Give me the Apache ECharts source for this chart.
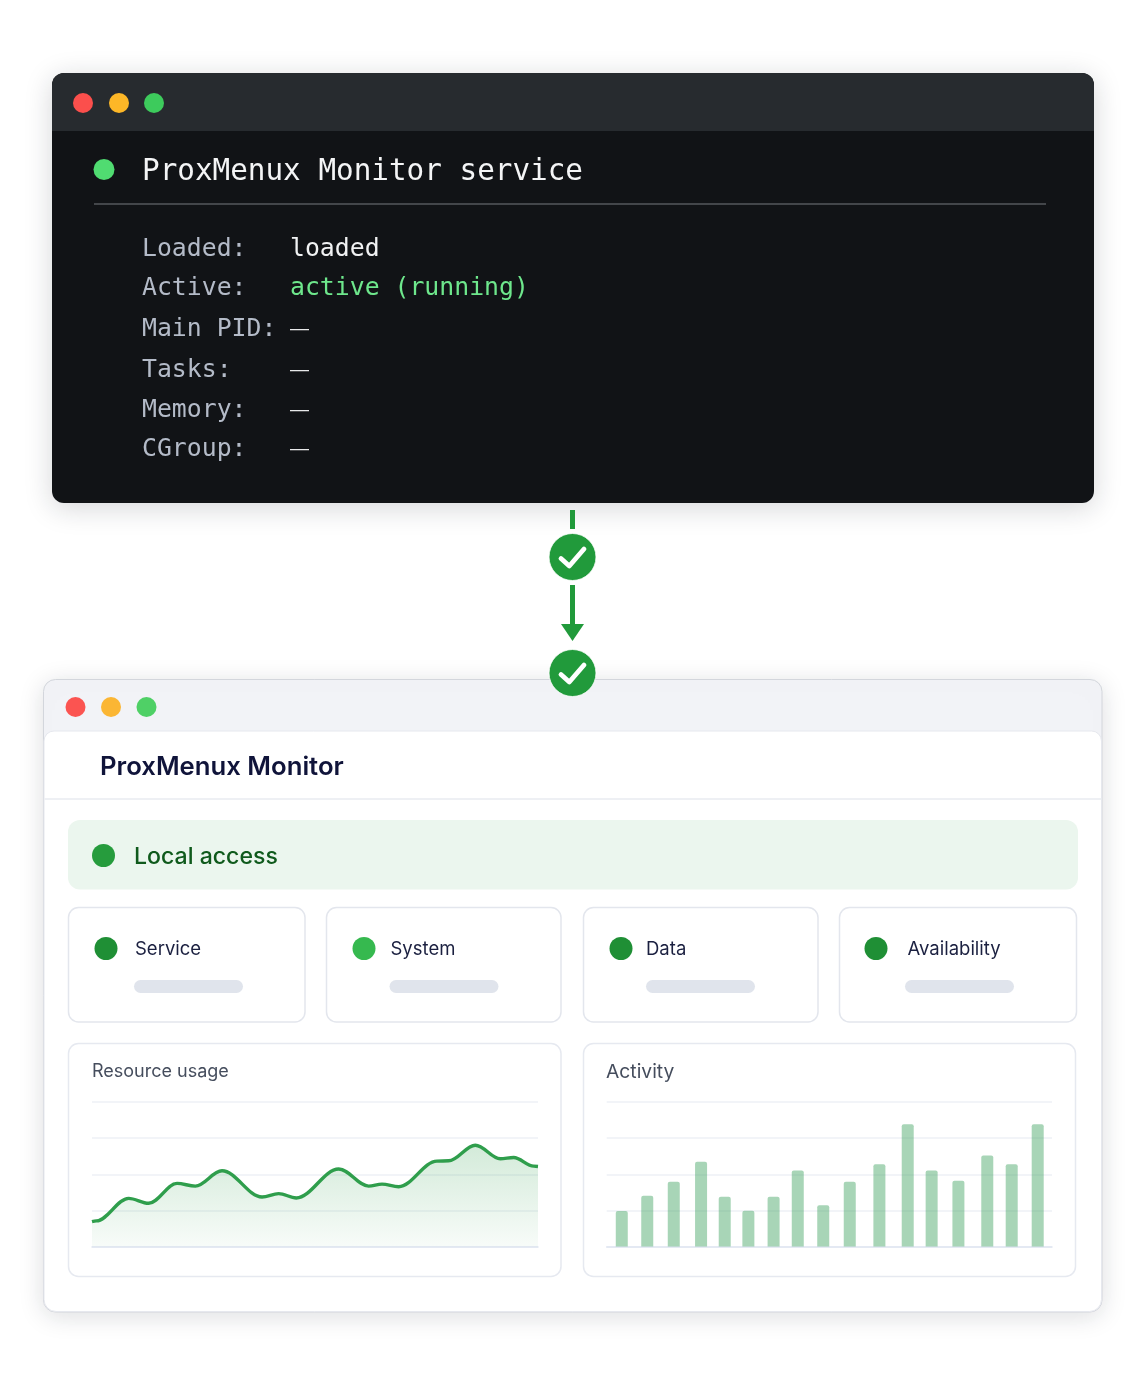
<!DOCTYPE html>
<html>
<head>
<meta charset="utf-8">
<title>ProxMenux Monitor</title>
<script src="https://cdn.jsdelivr.net/npm/echarts@6/dist/echarts.min.js"></script>
<style>
html, body { margin: 0; padding: 0; background: #fff; }
#main { width: 1145px; height: 1374px; }
</style>
</head>
<body>
<div id="main"></div>
<script>
// chart values (x as percent of the plot width)
var usageSlots = [0,0.97,8.22,12.71,19.06,23.17,29.15,38.12,41.85,45.81,55.31,62.03,65.02,68.76,77.35,79.97,85.95,91.55,94.54,99.03,100];
var usageValues = [17.2,17.7,33.3,29.9,43.7,41.8,52.4,34.3,36.6,33.6,53.6,41.8,43.2,41.4,59.1,59.3,70.1,60.7,61.6,55.6,55.4];
var activitySlots = [0.58,1.56,2.58,3.63,4.54,5.45,6.42,7.35,8.33,9.35,10.49,11.58,12.5,13.53,14.64,15.58,16.58];
var activityValues = [24.6,35.2,44.8,58.6,34.5,24.8,34.5,52.6,28.5,44.8,57.0,84.6,52.6,45.5,63.0,57.0,84.6];

// texts
var serviceTitle = 'ProxMenux Monitor service';
var serviceFields = ['Loaded:', 'Active:', 'Main PID:', 'Tasks:', 'Memory:', 'CGroup:'];
var serviceValues = ['loaded', 'active (running)', '—', '—', '—', '—'];
var monitorTitle = 'ProxMenux Monitor';
var accessLabel = 'Local access';
var statusLabels = ['Service', 'System', 'Data', 'Availability'];
var chartTitles = ['Resource usage', 'Activity'];

var MONO = '"DejaVu Sans Mono", monospace';
var SANS = 'Inter, "Noto Sans", sans-serif';
var GREEN = '#219a3b';

function rect(x, y, w, h, r, fill, extra) {
	var style = { fill: fill };
	for (var k in extra) style[k] = extra[k];
	return { type: 'rect', silent: true, shape: { x: x, y: y, width: w, height: h, r: r }, style: style };
}
function dot(cx, cy, r, fill) {
	return { type: 'circle', silent: true, shape: { cx: cx, cy: cy, r: r }, style: { fill: fill } };
}
function label(x, y, text, size, fill, family, weight) {
	return {
		type: 'text', silent: true, x: x, y: y,
		style: { text: text, fontSize: size, fontFamily: family, fontWeight: weight || 'normal', fill: fill, verticalAlign: 'middle', align: 'left' }
	};
}
function hline(x1, x2, y, color, width) {
	return { type: 'line', silent: true, shape: { x1: x1, y1: y, x2: x2, y2: y }, style: { stroke: color, lineWidth: width || 1.5 } };
}
function checkBadge(cy) {
	return [
		{ type: 'circle', silent: true, shape: { cx: 572.5, cy: cy, r: 23.5 }, style: { fill: GREEN, stroke: 'rgba(255,255,255,0.8)', lineWidth: 1 } },
		{ type: 'polyline', silent: true, shape: { points: [[561, cy + 1.5], [569.3, cy + 9], [584, cy - 8]] }, style: { fill: null, stroke: '#fff', lineWidth: 4.8, lineCap: 'round', lineJoin: 'round' } }
	];
}

var shadow = { shadowBlur: 28, shadowColor: 'rgba(20,25,40,0.18)', shadowOffsetY: 5 };
var els = [];

// terminal window
els.push(rect(52, 73, 1042, 430, 12, '#111316', shadow));
els.push(rect(52, 73, 1042, 58, [12, 12, 0, 0], '#272b2f'));
els.push(dot(83, 103, 10, '#fb4f4c'), dot(119, 103, 10, '#fdb727'), dot(154, 103, 10, '#3dcb5c'));
els.push(dot(104, 169.5, 10.5, '#50dc71'));
els.push(label(142, 172, serviceTitle, 29.3, '#f4f5f6', MONO));
els.push(hline(94, 1046, 204, '#55585d', 1.5));
var rowY = [249.5, 288.5, 329.5, 370.5, 410.5, 449.5];
for (var i = 0; i < serviceFields.length; i++) {
	els.push(label(142, rowY[i], serviceFields[i], 24.8, '#b4bbc8', MONO));
	if (serviceValues[i] === '—') {
		els.push(label(290, rowY[i] - 1, serviceValues[i], 19, '#e8e9ea', '"Liberation Sans", sans-serif'));
	} else {
		els.push(label(290, rowY[i], serviceValues[i], 24.8, i === 1 ? '#6ee78c' : '#f1f2f3', MONO));
	}
}

// browser window
els.push(rect(43.5, 679.5, 1058.5, 632.5, 12, '#f2f3f7', {
	stroke: '#d3d6dc', lineWidth: 1, shadowBlur: 26, shadowColor: 'rgba(20,25,40,0.14)', shadowOffsetY: 4
}));
els.push(rect(44, 731, 1057.5, 580.5, [10, 10, 12, 12], '#fff', { stroke: '#e6e8ee', lineWidth: 1 }));
els.push(dot(75.5, 707, 10, '#fb5451'), dot(111, 707, 10, '#fbb634'), dot(146.5, 707, 10, '#4fd066'));
els.push(label(100, 767, monitorTitle, 25.7, '#10143a', SANS, 600));
els.push(hline(44.5, 1101.5, 799, '#e9ebf0', 1.5));

// access banner
els.push(rect(68, 820, 1010, 69.5, 12, '#ebf6ee'));
els.push(dot(103.5, 855.5, 11.5, '#269c3d'));
els.push(label(134, 857, accessLabel, 23.1, '#0f5a1c', SANS, 500));

// status cards
var cardX = [68.5, 326.5, 583.5, 839.5], cardW = [236.5, 234.5, 234.5, 237];
var dotX = [106, 364, 621, 876], dotFill = ['#1f8f35', '#36b94f', '#1f8f35', '#1f8f35'];
var textX = [135, 390.5, 646, 907.5], pillX = [134, 389.5, 646, 905];
for (var c = 0; c < statusLabels.length; c++) {
	els.push(rect(cardX[c], 907.5, cardW[c], 114.5, 10, '#fff', { stroke: '#e3e6ed', lineWidth: 1.5 }));
	els.push(dot(dotX[c], 948.5, 11.5, dotFill[c]));
	els.push(label(textX[c], 949.5, statusLabels[c], 18.5, '#1b2040', SANS));
	els.push(rect(pillX[c], 980, 109, 13, 6.5, '#e0e4ec'));
}

// chart cards
els.push(rect(68.5, 1043.5, 492.5, 233, 10, '#fff', { stroke: '#e6e9f0', lineWidth: 1.5 }));
els.push(rect(583.5, 1043.5, 492, 233, 10, '#fff', { stroke: '#e6e9f0', lineWidth: 1.5 }));
els.push(label(92, 1072, chartTitles[0], 18, '#454d5d', SANS));
els.push(label(606, 1072, chartTitles[1], 19.3, '#454d5d', SANS));

// connector between the windows
els.push({ type: 'line', silent: true, shape: { x1: 572.5, y1: 510, x2: 572.5, y2: 529 }, style: { stroke: GREEN, lineWidth: 5 } });
els.push({ type: 'line', silent: true, shape: { x1: 572.5, y1: 585, x2: 572.5, y2: 626 }, style: { stroke: GREEN, lineWidth: 5 } });
els.push({ type: 'polygon', silent: true, shape: { points: [[561, 624], [584, 624], [572.5, 641]] }, style: { fill: GREEN } });
els = els.concat(checkBadge(557), checkBadge(673));

els.forEach(function (e) { e.z = -5; });

var splitStyle = { show: true, lineStyle: { color: '#eef0f6', width: 1.5 } };
var baseLine = { show: true, onZero: true, lineStyle: { color: '#dfe5f1', width: 1.5 } };

var option = {
	animation: false,
	backgroundColor: '#ffffff',
	graphic: { elements: els },
	grid: [
		{ left: 92, top: 1102, width: 446, height: 144.5 },
		{ left: 606.7, top: 1102, width: 445.3, height: 144.5 }
	],
	xAxis: [
		{ type: 'value', gridIndex: 0, min: 0, max: 100, axisLine: baseLine, axisTick: { show: false }, axisLabel: { show: false }, splitLine: { show: false } },
		{ type: 'value', gridIndex: 1, min: 0, max: 17.13, axisLine: baseLine, axisTick: { show: false }, axisLabel: { show: false }, splitLine: { show: false } }
	],
	yAxis: [
		{ type: 'value', gridIndex: 0, min: 0, max: 100, interval: 25, axisLine: { show: false }, axisTick: { show: false }, axisLabel: { show: false }, splitLine: splitStyle },
		{ type: 'value', gridIndex: 1, min: 0, max: 100, interval: 25, axisLine: { show: false }, axisTick: { show: false }, axisLabel: { show: false }, splitLine: splitStyle }
	],
	series: [
		{
			name: chartTitles[0], type: 'line', xAxisIndex: 0, yAxisIndex: 0,
			data: usageSlots.map(function (s, i) { return [s, usageValues[i]]; }),
			smooth: 0.35, smoothMonotone: 'x', showSymbol: false,
			lineStyle: { color: '#2f9e4c', width: 3.4 },
			areaStyle: {
				color: new echarts.graphic.LinearGradient(0, 0, 0, 1, [
					{ offset: 0, color: 'rgba(47,158,76,0.3)' },
					{ offset: 1, color: 'rgba(47,158,76,0.05)' }
				])
			}
		},
		{
			name: chartTitles[1], type: 'bar', xAxisIndex: 1, yAxisIndex: 1,
			data: activitySlots.map(function (s, i) { return [s, activityValues[i]]; }),
			barWidth: 12,
			itemStyle: { color: 'rgba(58,160,90,0.44)', borderRadius: [2, 2, 0, 0] }
		}
	]
};

var myChart = echarts.init(document.getElementById('main'), null, { renderer: 'canvas' });
myChart.setOption(option);
</script>
</body>
</html>
